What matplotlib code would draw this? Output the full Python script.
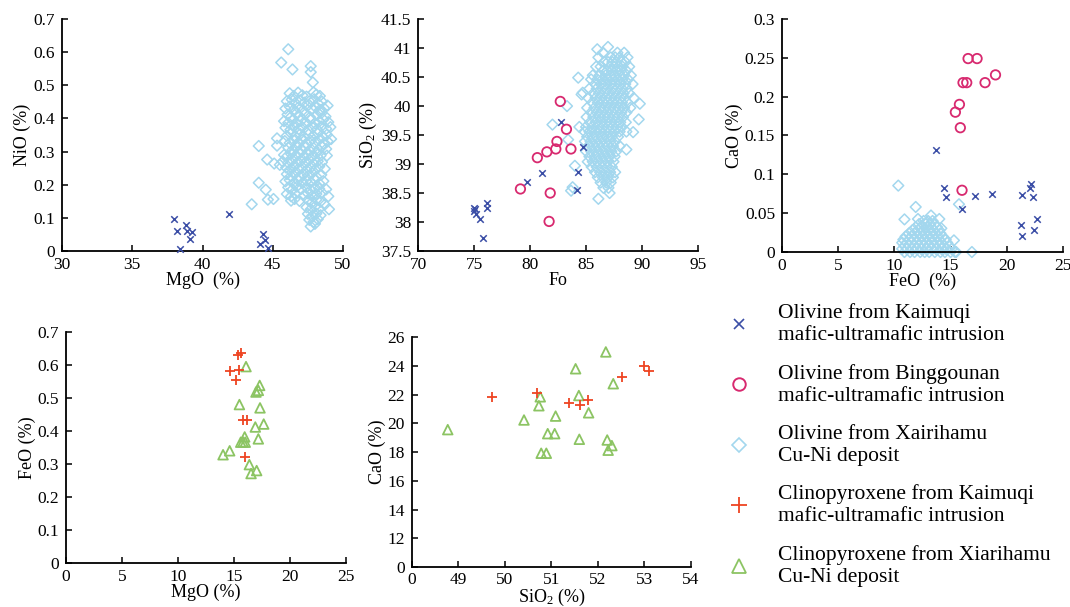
import matplotlib
matplotlib.use("Agg")
import matplotlib.pyplot as plt
from matplotlib.lines import Line2D

plt.rcParams['font.family'] = ['Liberation Serif', 'DejaVu Serif']
plt.rcParams['mathtext.fontset'] = 'custom'
plt.rcParams['mathtext.rm'] = 'Liberation Serif'
plt.rcParams['mathtext.default'] = 'regular'

C_KAI = '#3b4ea6'
C_BIN = '#d8296f'
C_XAI = '#a3d7ee'
C_CPX_KAI = '#ee4422'
C_CPX_XIA = '#8cc463'

# ---- panel 1: MgO vs NiO (olivine)
kai_mgo = [38.0, 38.2, 38.8, 38.9, 39.25, 39.1, 38.4, 41.9, 44.27, 44.1, 44.45, 44.65]
kai_nio = [0.098, 0.059, 0.077, 0.060, 0.057, 0.035, 0.007, 0.112, 0.050, 0.022, 0.032, 0.010]

xai_p1 = [
    (46.1, 0.609), (45.6, 0.569), (46.4, 0.548), (47.7, 0.558), (47.7, 0.540), (47.85, 0.509),
    (44.0, 0.317), (44.6, 0.276), (44.0, 0.206), (44.5, 0.185), (44.65, 0.155), (45.05, 0.157),
    (43.5, 0.141), (45.3, 0.340), (45.1, 0.264), (45.3, 0.318), (45.5, 0.260),
    (46.2, 0.476), (46.5, 0.468), (46.8, 0.478), (47.1, 0.470), (47.4, 0.466), (47.9, 0.479), (48.1, 0.472), (48.35, 0.468),
    (46.0, 0.452), (46.35, 0.457), (46.6, 0.447), (46.95, 0.455), (47.25, 0.448), (47.6, 0.452), (47.95, 0.458), (48.2, 0.446), (48.5, 0.451),
    (45.9, 0.430), (46.2, 0.436), (46.5, 0.427), (46.8, 0.433), (47.15, 0.425), (47.45, 0.437), (47.8, 0.428), (48.05, 0.434), (48.35, 0.426), (48.65, 0.431), (48.9, 0.439),
    (46.05, 0.412), (46.3, 0.405), (46.65, 0.415), (46.9, 0.407), (47.3, 0.413), (47.65, 0.404), (48.1, 0.411), (48.45, 0.416), (48.75, 0.406),
    (45.8, 0.392), (46.1, 0.387), (46.4, 0.395), (46.7, 0.386), (47.0, 0.393), (47.35, 0.388), (47.7, 0.396), (48.0, 0.385), (48.3, 0.391), (48.6, 0.397), (48.95, 0.389),
    (45.9, 0.372), (46.25, 0.366), (46.5, 0.375), (46.85, 0.368), (47.1, 0.374), (47.5, 0.365), (47.85, 0.372), (48.15, 0.367), (48.45, 0.376), (48.8, 0.369), (49.1, 0.374),
    (46.0, 0.348), (46.3, 0.355), (46.6, 0.346), (46.95, 0.353), (47.2, 0.345), (47.55, 0.352), (47.9, 0.347), (48.2, 0.356), (48.55, 0.344), (48.85, 0.351),
    (45.85, 0.332), (46.2, 0.326), (46.5, 0.334), (46.8, 0.327), (47.1, 0.335), (47.4, 0.325), (47.7, 0.333), (48.0, 0.328), (48.3, 0.336), (48.6, 0.324), (48.9, 0.331), (49.15, 0.338),
    (46.1, 0.312), (46.4, 0.305), (46.7, 0.314), (47.0, 0.307), (47.3, 0.313), (47.6, 0.304), (47.9, 0.311), (48.25, 0.306), (48.5, 0.315), (48.8, 0.308),
    (45.8, 0.290), (46.0, 0.285), (46.3, 0.293), (46.6, 0.287), (46.9, 0.294), (47.2, 0.284), (47.5, 0.291), (47.8, 0.286), (48.1, 0.295), (48.4, 0.288), (48.85, 0.288),
    (45.7, 0.270), (46.1, 0.266), (46.4, 0.274), (46.7, 0.265), (47.0, 0.272), (47.3, 0.267), (47.6, 0.275), (47.9, 0.264), (48.2, 0.271), (48.5, 0.268),
    (45.95, 0.252), (46.2, 0.245), (46.5, 0.254), (46.8, 0.247), (47.1, 0.253), (47.4, 0.244), (47.7, 0.251), (48.0, 0.246), (48.3, 0.255), (48.7, 0.248),
    (46.0, 0.232), (46.3, 0.226), (46.6, 0.234), (46.9, 0.225), (47.2, 0.231), (47.5, 0.227), (47.8, 0.235), (48.1, 0.224), (48.45, 0.230),
    (45.9, 0.210), (46.2, 0.214), (46.5, 0.206), (46.8, 0.213), (47.1, 0.205), (47.4, 0.212), (47.7, 0.207), (48.0, 0.215), (48.3, 0.204), (48.6, 0.211),
    (46.1, 0.192), (46.4, 0.186), (46.7, 0.194), (47.0, 0.187), (47.4, 0.193), (47.7, 0.185), (48.0, 0.191), (48.3, 0.188), (48.8, 0.186),
    (46.0, 0.172), (46.3, 0.165), (46.6, 0.173), (47.2, 0.167), (47.5, 0.174), (47.8, 0.166), (48.1, 0.172), (48.5, 0.176),
    (46.3, 0.152), (46.55, 0.157), (46.9, 0.151), (47.5, 0.154), (47.8, 0.147), (48.1, 0.155), (48.4, 0.149), (48.95, 0.165),
    (47.4, 0.132), (47.7, 0.126), (48.0, 0.134), (48.3, 0.128), (48.7, 0.140), (49.0, 0.126),
    (47.5, 0.112), (47.8, 0.106), (48.1, 0.113), (48.4, 0.108),
    (47.6, 0.094), (47.9, 0.088), (48.2, 0.096),
    (47.7, 0.074), (48.0, 0.082),
]

# ---- panel 2: Fo vs SiO2 (olivine)
kai_fo = [75.0, 75.0, 75.15, 75.1, 75.55, 75.8, 76.15, 76.2, 79.7, 81.1, 82.8, 84.7, 84.3, 84.15]
kai_sio2 = [38.25, 38.19, 38.14, 38.22, 38.05, 37.72, 38.33, 38.25, 38.69, 38.85, 39.72, 39.29, 38.86, 38.55]

bin_fo = [79.14, 80.65, 81.5, 82.3, 82.4, 82.7, 83.25, 83.65, 81.8, 81.7]
bin_sio2 = [38.57, 39.11, 39.21, 39.26, 39.39, 40.08, 39.60, 39.26, 38.50, 38.01]

xai_p2_rows = {
    40.92: [86.5, 87.8, 88.4],
    40.84: [86.1, 87.2, 87.6, 88.0, 88.7],
    40.76: [86.6, 86.95, 87.35, 87.7, 88.15, 88.5],
    40.68: [85.9, 86.3, 87.1, 87.5, 87.9, 88.25, 88.85],
    40.61: [86.55, 86.9, 87.3, 87.75, 88.1, 88.6],
    40.53: [85.6, 86.2, 86.75, 87.15, 87.55, 88.0, 88.4, 89.0],
    40.46: [85.45, 86.0, 86.45, 86.95, 87.4, 87.85, 88.25, 88.75],
    40.38: [85.8, 86.3, 86.7, 87.2, 87.6, 88.05, 88.5, 89.15],
    40.30: [85.3, 85.95, 86.45, 86.85, 87.35, 87.75, 88.2, 88.65],
    40.22: [85.65, 86.15, 86.6, 87.0, 87.45, 87.9, 88.35, 88.85],
    40.14: [85.2, 85.85, 86.3, 86.75, 87.15, 87.6, 88.05, 88.45, 89.25],
    40.06: [85.55, 86.05, 86.5, 86.9, 87.35, 87.8, 88.2, 88.7],
    39.97: [85.1, 85.75, 86.25, 86.65, 87.1, 87.55, 87.95, 88.4, 88.95],
    39.89: [85.45, 85.95, 86.4, 86.85, 87.3, 87.7, 88.15, 88.6],
    39.81: [85.05, 85.65, 86.15, 86.6, 87.0, 87.45, 87.85, 88.3],
    39.72: [85.35, 85.85, 86.35, 86.8, 87.2, 87.65, 88.05, 88.55],
    39.64: [85.0, 85.55, 86.05, 86.5, 86.95, 87.35, 87.8, 88.2],
    39.56: [84.85, 85.3, 85.8, 86.25, 86.7, 87.1, 87.55, 88.0, 88.6],
    39.47: [85.1, 85.6, 86.0, 86.45, 86.9, 87.3, 87.85],
    39.39: [84.9, 85.4, 85.85, 86.3, 86.75, 87.15, 87.6],
    39.31: [85.2, 85.65, 86.1, 86.55, 86.95, 87.4, 88.0],
    39.22: [85.0, 85.45, 85.95, 86.4, 86.8, 87.25, 87.7],
    39.13: [85.3, 85.8, 86.2, 86.65, 87.1, 87.55],
    39.04: [85.15, 85.6, 86.05, 86.5, 86.95, 87.45],
    38.95: [85.5, 85.95, 86.4, 86.85, 87.3],
    38.86: [85.8, 86.25, 86.7, 87.15, 87.6],
    38.77: [86.05, 86.5, 86.95, 87.4],
    38.68: [86.3, 86.8, 87.2],
    38.59: [86.55, 87.0],
}
xai_p2_extra = [
    (82.0, 39.68), (83.3, 40.00), (83.4, 39.42), (83.66, 38.54), (84.0, 38.97), (84.3, 40.49),
    (84.4, 39.64), (84.7, 40.23), (86.0, 40.98), (86.96, 41.02), (86.1, 38.40), (87.1, 38.50),
    (89.8, 40.04), (89.7, 39.77), (84.6, 40.2), (83.8, 38.6), (89.2, 39.55), (88.6, 39.25),
]

# ---- panel 3: FeO vs CaO (olivine)
kai_feo = [13.7, 14.42, 14.63, 16.0, 17.18, 18.67, 21.4, 22.06, 22.2, 22.3, 21.25, 21.4, 22.44, 22.7]
kai_cao = [0.131, 0.0825, 0.071, 0.056, 0.0726, 0.0748, 0.073, 0.083, 0.088, 0.071, 0.035, 0.021, 0.028, 0.0425]

bin_feo = [16.56, 17.36, 16.11, 16.44, 18.07, 19.0, 15.79, 15.43, 15.87, 16.02]
bin_cao = [0.249, 0.249, 0.218, 0.218, 0.218, 0.228, 0.190, 0.180, 0.160, 0.0795]

xai_p3_rows = {
    0.040: [12.6, 13.0, 13.4],
    0.036: [12.2, 12.8, 13.2, 13.6],
    0.032: [11.9, 12.4, 12.9, 13.3, 13.8],
    0.028: [11.6, 12.1, 12.6, 13.0, 13.5, 14.0],
    0.024: [11.3, 11.8, 12.3, 12.7, 13.2, 13.7, 14.1],
    0.020: [11.0, 11.5, 12.0, 12.5, 12.9, 13.4, 13.9, 14.3],
    0.016: [10.8, 11.3, 11.7, 12.2, 12.6, 13.1, 13.6, 14.0, 14.5],
    0.012: [10.7, 11.1, 11.5, 12.0, 12.4, 12.8, 13.3, 13.8, 14.2, 14.7],
    0.008: [10.9, 11.3, 11.8, 12.2, 12.6, 13.0, 13.5, 14.0, 14.4, 14.9],
    0.004: [10.7, 11.1, 11.6, 12.0, 12.4, 12.9, 13.3, 13.7, 14.2, 14.6, 15.1],
    0.000: [10.9, 11.4, 11.8, 12.3, 12.7, 13.1, 13.6, 14.1, 14.5, 15.0, 15.5],
}
xai_p3_extra = [
    (10.35, 0.0855), (11.9, 0.058), (10.9, 0.042), (12.1, 0.0425), (13.26, 0.047), (14.0, 0.0425),
    (14.18, 0.0305), (15.75, 0.0615), (14.57, 0.016), (15.3, 0.015), (16.9, 0.0), (15.4, 0.0),
]

# ---- panel 4: MgO vs FeO (clinopyroxene)
cpx_kai_mgo = [15.33, 15.6, 14.64, 15.42, 15.15, 15.8, 16.16, 16.0]
cpx_kai_feo = [0.629, 0.637, 0.583, 0.586, 0.555, 0.432, 0.432, 0.320]
cpx_xia_mgo = [16.07, 17.29, 17.17, 16.96, 15.48, 17.32, 17.65, 16.9, 17.17, 15.95, 15.8, 16.0,
               15.6, 14.02, 14.61, 16.37, 16.52, 17.02]
cpx_xia_feo = [0.595, 0.538, 0.523, 0.518, 0.480, 0.470, 0.421, 0.412, 0.376, 0.382, 0.367, 0.366,
               0.366, 0.328, 0.340, 0.298, 0.271, 0.280]

# ---- panel 5: SiO2 vs CaO (clinopyroxene)
cpx_kai_sio2 = [49.73, 50.69, 51.37, 51.61, 51.79, 52.52, 53.0, 53.09]
cpx_kai_cao = [21.8, 22.08, 21.43, 21.24, 21.59, 23.23, 23.97, 23.6]
cpx_xia_sio2 = [48.77, 50.41, 50.73, 50.76, 51.09, 50.92, 51.07, 50.78, 50.89, 51.52, 51.59, 51.8,
                51.6, 52.17, 52.33, 52.2, 52.3, 52.22]
cpx_xia_cao = [19.56, 20.23, 21.22, 21.84, 20.5, 19.28, 19.28, 17.92, 17.92, 23.79, 21.93, 20.73,
               18.89, 24.96, 22.75, 18.84, 18.45, 18.13]

labels = ['Olivine from Kaimuqi\nmafic-ultramafic intrusion',
          'Olivine from Binggounan\nmafic-ultramafic intrusion',
          'Olivine from Xairihamu\nCu-Ni deposit',
          'Clinopyroxene from Kaimuqi\nmafic-ultramafic intrusion',
          'Clinopyroxene from Xiarihamu\nCu-Ni deposit']


def rows_to_xy(rows, extra):
    xs, ys = [], []
    for y, xlist in rows.items():
        for x in xlist:
            xs.append(x)
            ys.append(y)
    for x, y in extra:
        xs.append(x)
        ys.append(y)
    return xs, ys


def style(ax, xpad=4.5):
    for s in ['top', 'right']:
        ax.spines[s].set_visible(False)
    for s in ['left', 'bottom']:
        ax.spines[s].set_linewidth(1.3)
    ax.tick_params(direction='in', length=4, width=1.1, labelsize=12.5)
    ax.tick_params(axis='y', pad=5)
    ax.tick_params(axis='x', pad=xpad)


def kai_style(ax, x, y):
    return ax.scatter(x, y, marker='x', s=22, color=C_KAI, linewidths=1.1, zorder=3, clip_on=False)


def bin_style(ax, x, y):
    return ax.scatter(x, y, marker='o', s=46, facecolors='none', edgecolors=C_BIN, linewidths=1.3,
                      zorder=3, clip_on=False)


def xai_style(ax, x, y):
    return ax.scatter(x, y, marker='D', s=30, facecolors='none', edgecolors=C_XAI, linewidths=1.1,
                      zorder=2, clip_on=False)


fig = plt.figure(figsize=(10.70, 6.07), dpi=100)

ax1 = fig.add_axes([0.058, 0.5865, 0.2626, 0.382])
ax2 = fig.add_axes([0.3907, 0.5865, 0.2617, 0.382])
ax3 = fig.add_axes([0.7308, 0.5848, 0.2626, 0.384])
ax4 = fig.add_axes([0.0617, 0.0725, 0.2617, 0.3806])
ax5 = fig.add_axes([0.385, 0.0655, 0.2607, 0.3794])

# panel 1
x1 = [p[0] for p in xai_p1]
y1 = [p[1] for p in xai_p1]
xai_style(ax1, x1, y1)
kai_style(ax1, kai_mgo, kai_nio)
ax1.set_xlim(30, 50)
ax1.set_ylim(0, 0.7)
ax1.set_xticks([30, 35, 40, 45, 50])
ax1.set_yticks([0, 0.1, 0.2, 0.3, 0.4, 0.5, 0.6, 0.7])
ax1.set_yticklabels(['0', '0.1', '0.2', '0.3', '0.4', '0.5', '0.6', '0.7'])
ax1.set_xlabel('MgO  (%)', fontsize=13, labelpad=-1)
ax1.set_ylabel('NiO (%)', fontsize=13, labelpad=2)

# panel 2
x2, y2 = rows_to_xy(xai_p2_rows, xai_p2_extra)
xai_style(ax2, x2, y2)
kai_style(ax2, kai_fo, kai_sio2)
bin_style(ax2, bin_fo, bin_sio2)
ax2.set_xlim(70, 95)
ax2.set_ylim(37.5, 41.5)
ax2.set_xticks([70, 75, 80, 85, 90, 95])
ax2.set_yticks([37.5, 38, 38.5, 39, 39.5, 40, 40.5, 41, 41.5])
ax2.set_yticklabels(['37.5', '38', '38.5', '39', '39.5', '40', '40.5', '41', '41.5'])
ax2.set_xlabel('Fo', fontsize=13, labelpad=-1)
ax2.set_ylabel('SiO$_2$ (%)', fontsize=13, labelpad=1)

# panel 3
x3, y3 = rows_to_xy(xai_p3_rows, xai_p3_extra)
xai_style(ax3, x3, y3)
kai_style(ax3, kai_feo, kai_cao)
bin_style(ax3, bin_feo, bin_cao)
ax3.set_xlim(0, 25)
ax3.set_ylim(0, 0.3)
ax3.set_xticks([0, 5, 10, 15, 20, 25])
ax3.set_yticks([0, 0.05, 0.1, 0.15, 0.2, 0.25, 0.3])
ax3.set_yticklabels(['0', '0.05', '0.1', '0.15', '0.2', '0.25', '0.3'])
ax3.set_xlabel('FeO  (%)', fontsize=13, labelpad=-1)
ax3.set_ylabel('CaO (%)', fontsize=13, labelpad=1)

# panel 4
ax4.scatter(cpx_kai_mgo, cpx_kai_feo, marker='+', s=60, color=C_CPX_KAI, linewidths=1.3, zorder=3)
ax4.scatter(cpx_xia_mgo, cpx_xia_feo, marker='^', s=48, facecolors='none',
            edgecolors=C_CPX_XIA, linewidths=1.3, zorder=2)
ax4.set_xlim(0, 25)
ax4.set_ylim(0, 0.7)
ax4.set_xticks([0, 5, 10, 15, 20, 25])
ax4.set_yticks([0, 0.1, 0.2, 0.3, 0.4, 0.5, 0.6, 0.7])
ax4.set_yticklabels(['0', '0.1', '0.2', '0.3', '0.4', '0.5', '0.6', '0.7'])
ax4.set_xlabel('MgO (%)', fontsize=13, labelpad=-1)
ax4.set_ylabel('FeO (%)', fontsize=13, labelpad=1)

# panel 5 (axes start at 48 / 10 but are labelled 0)
ax5.scatter(cpx_kai_sio2, cpx_kai_cao, marker='+', s=60, color=C_CPX_KAI, linewidths=1.3, zorder=3)
ax5.scatter(cpx_xia_sio2, cpx_xia_cao, marker='^', s=48, facecolors='none',
            edgecolors=C_CPX_XIA, linewidths=1.3, zorder=2)
ax5.set_xlim(48, 54)
ax5.set_ylim(10, 26)
ax5.set_xticks([48, 49, 50, 51, 52, 53, 54])
ax5.set_xticklabels(['0', '49', '50', '51', '52', '53', '54'])
ax5.set_yticks([10, 12, 14, 16, 18, 20, 22, 24, 26])
ax5.set_yticklabels(['0', '12', '14', '16', '18', '20', '22', '24', '26'])
ax5.set_xlabel('SiO$_2$ (%)', fontsize=13, labelpad=-1)
ax5.set_ylabel('CaO (%)', fontsize=13, labelpad=1)

for ax in [ax1, ax2, ax3, ax4]:
    style(ax)
style(ax5, xpad=3.5)

handles = [
    Line2D([], [], ls='none', marker='x', ms=7.5, mew=1.2, color=C_KAI),
    Line2D([], [], ls='none', marker='o', ms=9, mew=1.4, mfc='none', mec=C_BIN),
    Line2D([], [], ls='none', marker='D', ms=7.5, mew=1.2, mfc='none', mec=C_XAI),
    Line2D([], [], ls='none', marker='+', ms=11, mew=1.3, color=C_CPX_KAI),
    Line2D([], [], ls='none', marker='^', ms=9.5, mew=1.3, mfc='none', mec=C_CPX_XIA),
]
fig.legend(handles, labels,
           loc='upper left', bbox_to_anchor=(0.677, 0.5), frameon=False,
           fontsize=15.5, handlelength=1.4, handletextpad=1.1, labelspacing=0.88,
           borderpad=0, borderaxespad=0)

fig.savefig('out.png', dpi=100)
